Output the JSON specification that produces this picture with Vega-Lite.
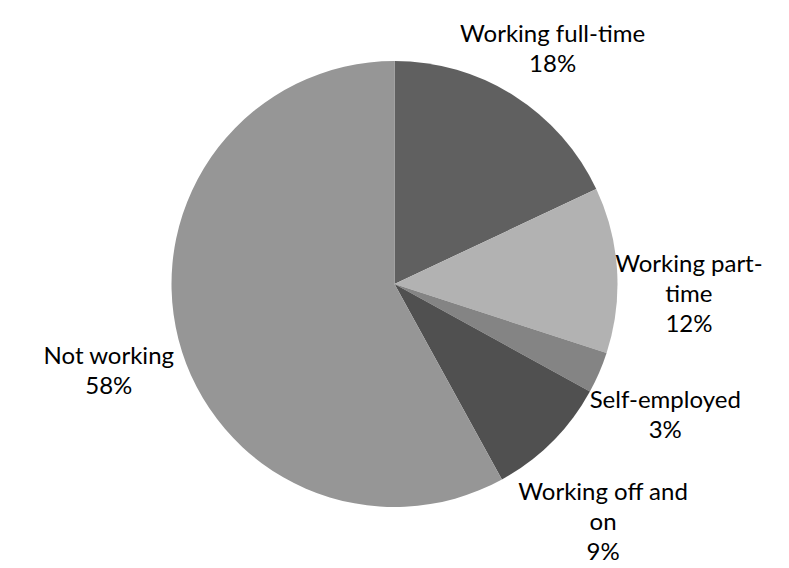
{
  "$schema": "https://vega.github.io/schema/vega-lite/v6.json",
  "width": 789,
  "height": 568,
  "autosize": {"type": "fit", "contains": "padding"},
  "padding": 0,
  "background": "white",
  "config": {"view": {"stroke": null}},
  "data": {
    "values": [
      {"idx": 1, "category": "Working full-time", "value": 18, "label": "Working full-time\n18%"},
      {"idx": 2, "category": "Working part-time", "value": 12, "label": "Working part-\ntime\n12%"},
      {"idx": 3, "category": "Self-employed", "value": 3, "label": "Self-employed\n3%"},
      {"idx": 4, "category": "Working off and on", "value": 9, "label": "Working off and\non\n9%"},
      {"idx": 5, "category": "Not working", "value": 58, "label": "Not working\n58%"}
    ]
  },
  "encoding": {
    "theta": {"field": "value", "type": "quantitative", "stack": true},
    "order": {"field": "idx", "type": "quantitative"}
  },
  "layer": [
    {
      "mark": {"type": "arc", "outerRadius": 223, "stroke": null},
      "encoding": {
        "color": {
          "field": "category",
          "type": "nominal",
          "legend": null,
          "scale": {
            "domain": ["Working full-time", "Working part-time", "Self-employed", "Working off and on", "Not working"],
            "range": ["#606060", "#b2b2b2", "#848484", "#505050", "#969696"]
          }
        }
      }
    },
    {
      "mark": {"type": "text", "radius": 295, "font": "Lato", "fontSize": 24, "lineHeight": 30, "lineBreak": "\n", "color": "#000000", "align": "center", "baseline": "middle"},
      "encoding": {
        "text": {"field": "label", "type": "nominal"}
      }
    }
  ]
}
